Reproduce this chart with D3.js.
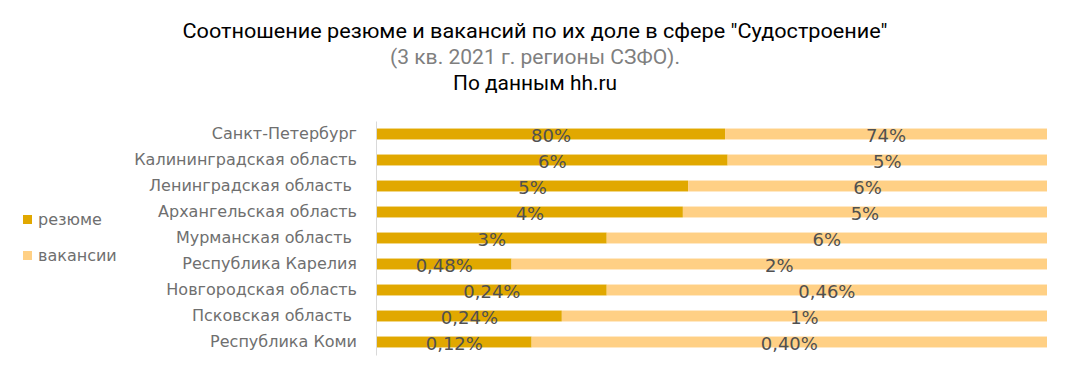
<!DOCTYPE html>
<html lang="ru">
<head>
<meta charset="UTF-8" />
<title>Судостроение СЗФО</title>
<script src="https://d3js.org/d3.v7.min.js"></script>
<style>
  body { margin: 0; background: #fff; }
  svg text { font-family: "DejaVu Sans", sans-serif; }
  .title { font-family: "Roboto", sans-serif !important; }
</style>
</head>
<body>
<div id="chart"></div>
<script>
// regions, top to bottom
var regions = ["Санкт-Петербург", "Калининградская область", "Ленинградская область\u00a0",
  "Архангельская область", "Мурманская область\u00a0", "Республика Карелия",
  "Новгородская область", "Псковская область\u00a0", "Республика Коми"];
// share of the region in resumes and vacancies, %
var resume   = [80, 5.6, 5.2, 4.2, 3.0, 0.48, 0.24, 0.24, 0.12];
var vacancy  = [74, 5.1, 6.0, 5.0, 5.75, 1.91, 0.46, 0.63, 0.40];
// labels as printed in the chart
var resumeLabels  = ["80%", "6%", "5%", "4%", "3%", "0,48%", "0,24%", "0,24%", "0,12%"];
var vacancyLabels = ["74%", "5%", "6%", "5%", "6%", "2%", "0,46%", "1%", "0,40%"];
var seriesNames = ["резюме", "вакансии"];
var colors = ["#E1A800", "#FFD085"];

var W = 1070, H = 378;
var svg = d3.select("#chart").append("svg").attr("width", W).attr("height", H);

// titles
function title(txt, y, len, col) {
  svg.append("text").attr("class", "title").attr("x", 535).attr("y", y)
    .attr("text-anchor", "middle").attr("font-size", 20).attr("fill", col)
    .attr("textLength", len).attr("lengthAdjust", "spacingAndGlyphs")
    .text(txt);
}
title("Соотношение резюме и вакансий по их доле в сфере \"Судостроение\"", 38, 705, "#000");
title("(3 кв. 2021 г. регионы СЗФО).", 64, 290, "#7f7f7f");
title("По данным hh.ru", 90, 164, "#000");

// stacked 100% data
var rows = regions.map(function(r, i) {
  var t = resume[i] + vacancy[i];
  return {region: r, a: resume[i] / t, b: vacancy[i] / t, la: resumeLabels[i], lb: vacancyLabels[i]};
});

var x = d3.scaleLinear().domain([0, 1]).range([377, 1047]);
var y = d3.scaleBand().domain(regions).range([121, 355]).paddingInner(0.58).paddingOuter(0.29);

var g = svg.append("g");
var row = g.selectAll(".row").data(rows).enter().append("g");

row.append("rect")
  .attr("x", x(0)).attr("y", function(d) { return y(d.region); })
  .attr("width", function(d) { return x(d.a) - x(0); })
  .attr("height", y.bandwidth()).attr("fill", colors[0]);
row.append("rect")
  .attr("x", function(d) { return x(d.a); }).attr("y", function(d) { return y(d.region); })
  .attr("width", function(d) { return x(1) - x(d.a); })
  .attr("height", y.bandwidth()).attr("fill", colors[1]);

// data labels, centred in each segment
row.append("text")
  .attr("x", function(d) { return (x(0) + x(d.a)) / 2; })
  .attr("y", function(d) { return y(d.region) + y.bandwidth() / 2 + 8; })
  .attr("text-anchor", "middle").attr("font-size", 18).attr("fill", "#505050")
  .text(function(d) { return d.la; });
row.append("text")
  .attr("x", function(d) { return (x(d.a) + x(1)) / 2; })
  .attr("y", function(d) { return y(d.region) + y.bandwidth() / 2 + 8; })
  .attr("text-anchor", "middle").attr("font-size", 18).attr("fill", "#505050")
  .text(function(d) { return d.lb; });

// category axis
var axis = svg.append("g").attr("transform", "translate(376,0)")
  .call(d3.axisLeft(y).tickSize(0).tickPadding(19));
axis.select(".domain").attr("stroke", "#d9d9d9");
axis.selectAll("text").attr("font-size", 16).attr("fill", "#6f6f6f")
  .style("font-family", "'DejaVu Sans', sans-serif").style("white-space", "pre");

// legend
var leg = svg.append("g").selectAll("g").data(seriesNames).enter().append("g")
  .attr("transform", function(d, i) { return "translate(23," + (215 + i * 36) + ")"; });
leg.append("rect").attr("width", 9).attr("height", 9).attr("fill", function(d, i) { return colors[i]; });
leg.append("text").attr("x", 15).attr("y", 10).attr("font-size", 16).attr("fill", "#6f6f6f")
  .text(function(d) { return d; });
</script>
</body>
</html>
